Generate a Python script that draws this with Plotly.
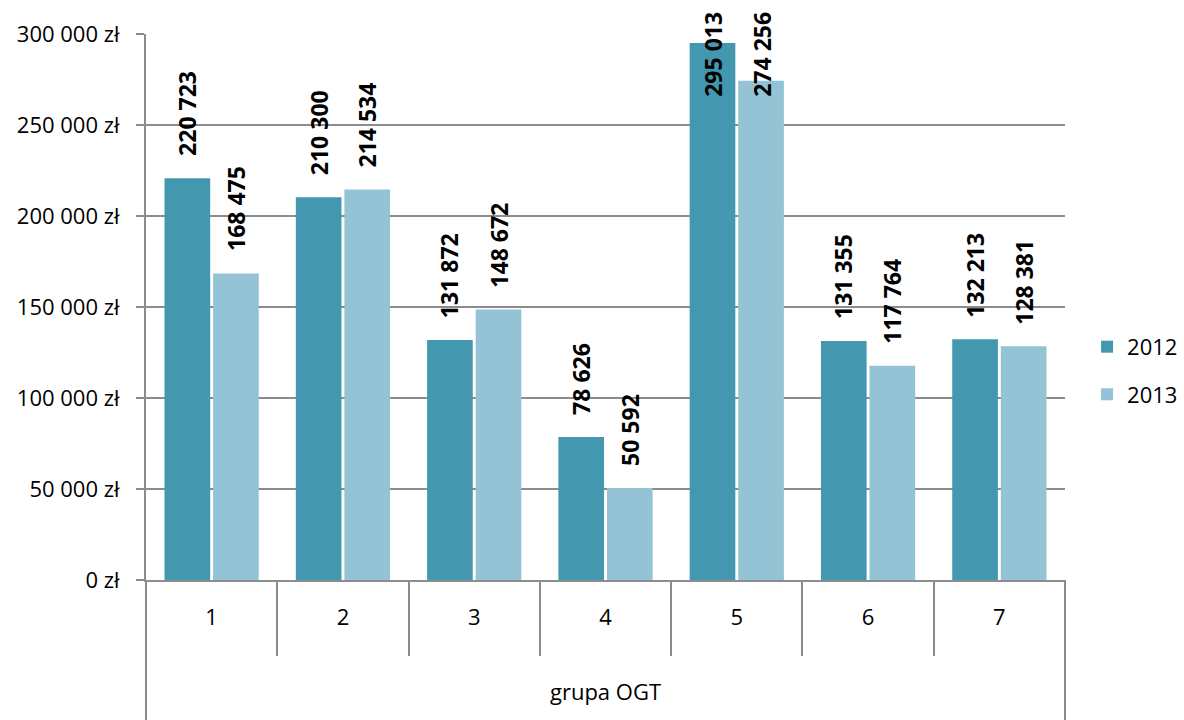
import plotly.graph_objects as go

# data
groups = ["1", "2", "3", "4", "5", "6", "7"]
values_2012 = [220723, 210300, 131872, 78626, 295013, 131355, 132213]
values_2013 = [168475, 214534, 148672, 50592, 274256, 117764, 128381]
series_names = ["2012", "2013"]
colors = ["#4398AF", "#93C3D4"]

FONT = "Open Sans"
GRID = "#8C8C8C"

fig = go.Figure()
for name, vals, col in zip(series_names, [values_2012, values_2013], colors):
    fig.add_trace(go.Bar(x=groups, y=vals, name=name, marker_color=col,
                         marker_line_width=0, legendgroup=name))

# plot is 546 px tall for 300 000 -> value units per px
upp = 300000 / 546
annotations = []
for k, vals in enumerate([values_2012, values_2013]):
    for i, v in enumerate(vals):
        # labels sit ~20px above the bar, but cannot run past the top of the chart
        ypos = min(v + 20 * upp, 300000 + 22 * upp - 87 * upp)
        annotations.append(dict(
            x=i, y=ypos, xref="x", yref="y",  # category index
            text=f"{v:,}".replace(",", " "),
            textangle=-90, showarrow=False, yanchor="bottom",
            xshift=-24.5 if k == 0 else 24.5,
            font=dict(family=FONT, size=23, color="black", weight="bold"),
        ))

# outer frame lines of the group-label area ("grupa OGT")
shapes = [dict(type="line", xref="paper", yref="paper", x0=xp, x1=xp,
               y0=0, y1=-140 / 546, line=dict(color=GRID, width=2))
          for xp in (0, 1)]

fig.update_layout(
    width=1184, height=720,
    margin=dict(l=146, r=119, t=34, b=140, autoexpand=False),
    paper_bgcolor="white", plot_bgcolor="white",
    font=dict(family=FONT, size=22, color="black"),
    separators=", ",
    bargap=0.26, bargroupgap=0.06,
    annotations=annotations, shapes=shapes,
    legend=dict(x=1.024, y=0.383, yanchor="middle", xanchor="left",
                font=dict(size=22), tracegroupgap=16),
    showlegend=True,
)

fig.update_yaxes(range=[0, 300000], dtick=50000, tickformat=",d",
                 ticksuffix=" zł", showgrid=True, gridcolor=GRID, gridwidth=1.5,
                 showline=True, linecolor=GRID, linewidth=2,
                 ticks="outside", ticklen=8, tickcolor=GRID, tickwidth=2,
                 ticklabelstandoff=12, zeroline=False)

fig.update_xaxes(type="category", range=[-0.5, 6.5],
                 showline=True, linecolor=GRID, linewidth=2,
                 ticks="outside", tickson="boundaries", ticklen=74,
                 tickcolor=GRID, tickwidth=2, ticklabelstandoff=17,
                 title=dict(text="grupa OGT", standoff=54,
                            font=dict(size=22)))

# page body has a default margin; drop it so the figure fills the window
fig.write_html("out.html", config={"displayModeBar": False},
               post_script="document.body.style.margin='0';"
                           "document.body.style.overflow='hidden';")
